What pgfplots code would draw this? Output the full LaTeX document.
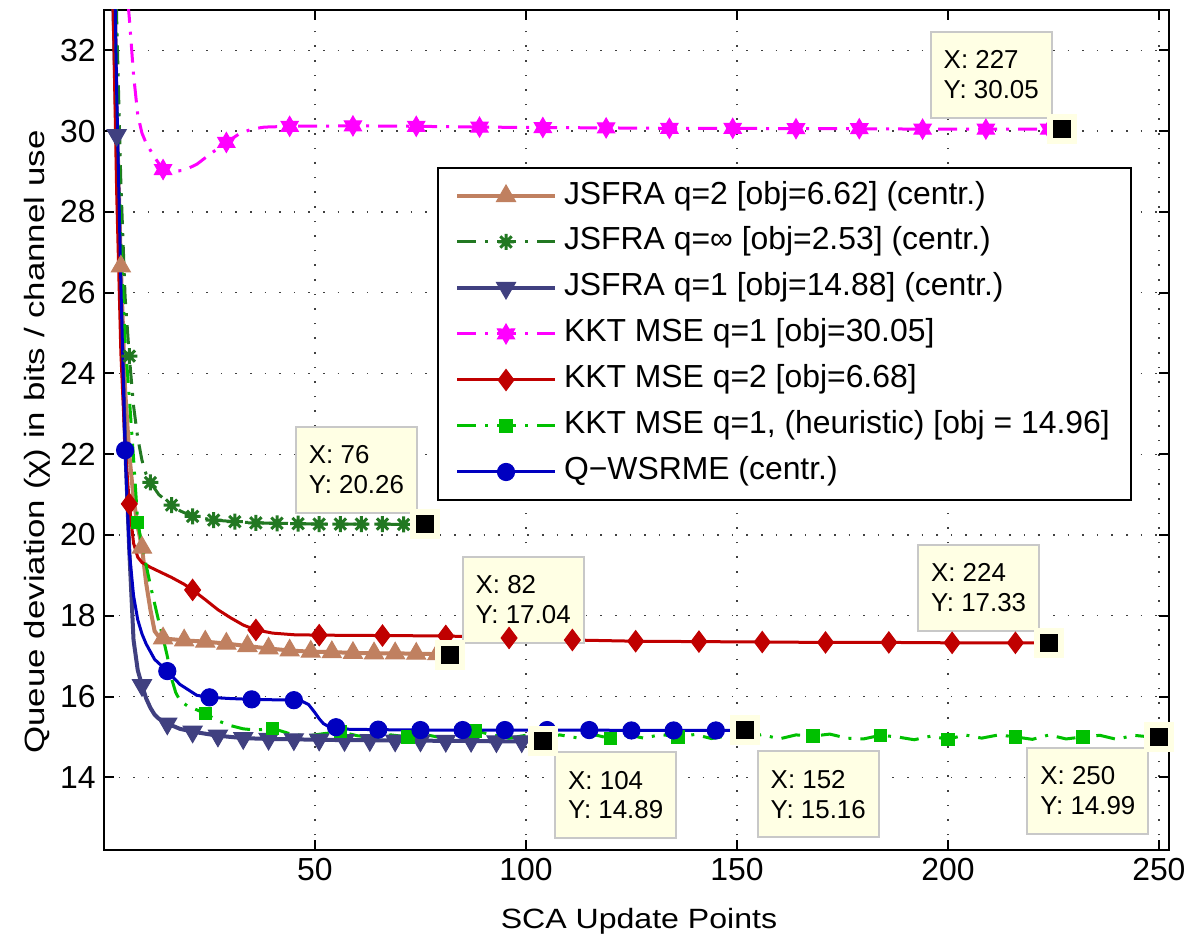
\documentclass[border=0pt]{standalone}
\usepackage{fontspec}
\setmainfont{Liberation Sans}
\usepackage{pgfplots}
\usepackage{pgfplotstable}
\pgfplotsset{compat=1.18}

\definecolor{ctan}{RGB}{192,128,96}
\definecolor{cdkgreen}{RGB}{34,120,34}
\definecolor{cnavy}{RGB}{64,64,128}
\definecolor{cmag}{RGB}{255,0,255}
\definecolor{cred}{RGB}{192,0,0}
\definecolor{cgreen}{RGB}{0,192,0}
\definecolor{cblue}{RGB}{0,0,192}
\definecolor{tipfill}{RGB}{255,255,228}
\definecolor{tipedge}{RGB}{200,200,200}

% six pointed star (matlab 'h'-like)
\pgfdeclareplotmark{hexagram}{%
  \pgfpathmoveto{\pgfpointpolar{90}{\pgfplotmarksize}}%
  \pgfpathlineto{\pgfpointpolar{120}{0.577\pgfplotmarksize}}%
  \pgfpathlineto{\pgfpointpolar{150}{\pgfplotmarksize}}%
  \pgfpathlineto{\pgfpointpolar{180}{0.577\pgfplotmarksize}}%
  \pgfpathlineto{\pgfpointpolar{210}{\pgfplotmarksize}}%
  \pgfpathlineto{\pgfpointpolar{240}{0.577\pgfplotmarksize}}%
  \pgfpathlineto{\pgfpointpolar{270}{\pgfplotmarksize}}%
  \pgfpathlineto{\pgfpointpolar{300}{0.577\pgfplotmarksize}}%
  \pgfpathlineto{\pgfpointpolar{330}{\pgfplotmarksize}}%
  \pgfpathlineto{\pgfpointpolar{0}{0.577\pgfplotmarksize}}%
  \pgfpathlineto{\pgfpointpolar{30}{\pgfplotmarksize}}%
  \pgfpathlineto{\pgfpointpolar{60}{0.577\pgfplotmarksize}}%
  \pgfpathclose
  \pgfusepathqfillstroke
}
% matlab '*' drawn thick
\pgfdeclareplotmark{ast8}{%
  \pgfpathmoveto{\pgfqpoint{-\pgfplotmarksize}{0pt}}\pgfpathlineto{\pgfqpoint{\pgfplotmarksize}{0pt}}%
  \pgfpathmoveto{\pgfqpoint{0pt}{-\pgfplotmarksize}}\pgfpathlineto{\pgfqpoint{0pt}{\pgfplotmarksize}}%
  \pgfpathmoveto{\pgfqpoint{-0.707\pgfplotmarksize}{-0.707\pgfplotmarksize}}\pgfpathlineto{\pgfqpoint{0.707\pgfplotmarksize}{0.707\pgfplotmarksize}}%
  \pgfpathmoveto{\pgfqpoint{-0.707\pgfplotmarksize}{0.707\pgfplotmarksize}}\pgfpathlineto{\pgfqpoint{0.707\pgfplotmarksize}{-0.707\pgfplotmarksize}}%
  \pgfusepathqstroke
  \pgfpathcircle{\pgfpointorigin}{0.55\pgfplotmarksize}\pgfusepathqfill
}

\tikzset{
  tipbox/.style={draw=tipedge, fill=tipfill, line width=1bp, anchor=north west,
    font=\fontsize{13}{15}\selectfont, align=left, inner xsep=0bp, inner ysep=0bp,
    minimum width=60.5bp, minimum height=43bp},
}

\pgfplotsset{
  dashdot/.style={dash pattern=on 9.5bp off 4.5bp on 1.5bp off 4.5bp},
  sTan/.style={color=ctan, line width=2bp, solid},
  mTan/.style={mark=triangle*, mark size=5.5bp, mark options={solid, line width=0.5bp, fill=ctan, draw=ctan}},
  sDkg/.style={color=cdkgreen, line width=1.5bp, dashdot},
  mDkg/.style={mark=ast8, mark size=4bp, mark options={solid, line width=1.5bp, fill=cdkgreen, draw=cdkgreen}},
  sNavy/.style={color=cnavy, line width=2bp, solid},
  mNavy/.style={mark=triangle*, mark size=5.5bp, mark options={solid, rotate=180, line width=0.5bp, fill=cnavy, draw=cnavy}},
  sMag/.style={color=cmag, line width=1.5bp, dashdot},
  mMag/.style={mark=hexagram, mark size=5bp, mark options={solid, line width=0.5bp, fill=cmag, draw=cmag}},
  sRed/.style={color=cred, line width=1.5bp, solid},
  mRed/.style={mark=diamond*, mark size=5.3bp, mark options={solid, line width=0.5bp, fill=cred, draw=cred}},
  sGrn/.style={color=cgreen, line width=1.5bp, dashdot},
  mGrn/.style={mark=square*, mark size=3.1bp, mark options={solid, line width=0.5bp, fill=cgreen, draw=cgreen}},
  sBlue/.style={color=cblue, line width=1.5bp, solid},
  mBlue/.style={mark=*, mark size=4.3bp, mark options={solid, line width=0.5bp, fill=cblue, draw=cblue}},
  onlym/.style={only marks, forget plot, restrict expr to domain={\thisrow{m}}{1:1}},
}

% m = 1 where a marker sits
\pgfplotstableread{
x y m
1 50 0
2 37 0
3 30.5 0
4 26.65 1
5 23.6 0
6 22.0 0
7 20.9 0
8 20.2 0
9 19.69 1
10 18.8 0
11 18.15 0
12 17.62 0
13 17.48 0
14 17.44 1
19 17.39 1
24 17.36 1
29 17.31 1
34 17.25 1
39 17.19 1
44 17.14 1
49 17.11 1
54 17.10 1
59 17.08 1
64 17.07 1
69 17.07 1
74 17.06 1
79 17.05 1
82 17.04 0
}\tanT

\pgfplotstableread{
x y m
1 45 0
2 38 0
3 32.8 0
4 28.7 0
5 25.9 0
6 24.43 1
7 23.2 0
8 22.4 0
9 21.85 0
10 21.5 0
11 21.3 1
13 21.0 0
16 20.74 1
18 20.6 0
21 20.46 1
26 20.37 1
31 20.33 1
36 20.30 1
41 20.29 1
46 20.28 1
51 20.27 1
56 20.27 1
61 20.27 1
66 20.27 1
71 20.26 1
76 20.26 1
}\dkgT

\pgfplotstableread{
x y m
1 45 0
2 34 0
3 29.9 1
4 25.8 0
5 22.3 0
6 19.6 0
7 17.4 0
8 16.65 0
9 16.28 1
10 15.95 0
11 15.72 0
12 15.55 0
13 15.45 0
15 15.33 1
18 15.20 0
21 15.13 1
27 15.03 1
33 14.97 1
39 14.95 1
45 14.94 1
51 14.93 1
57 14.92 1
63 14.92 1
69 14.91 1
75 14.91 1
81 14.90 1
87 14.90 1
93 14.89 1
99 14.89 1
104 14.89 0
}\navyT

\pgfplotstableread{
x y m
1 48 0
2 43 0
3 39 0
4 36 0
5 34 0
6 32.8 0
7 31.4 0
8 30.4 0
9 29.95 0
10 29.7 0
12 29.35 0
14 29.05 1
16 29.0 0
19 29.03 0
22 29.18 0
25 29.42 0
29 29.72 1
32 29.93 0
35 30.05 0
38 30.10 0
44 30.12 1
59 30.13 1
74 30.12 1
89 30.10 1
104 30.09 1
119 30.08 1
134 30.07 1
149 30.07 1
164 30.06 1
179 30.06 1
194 30.05 1
209 30.05 1
224 30.05 1
227 30.05 0
}\magT

\pgfplotstableread{
x y m
1 50 0
2 34 0
3 28.5 0
4 24.5 0
5 22.2 0
6 20.77 1
7 19.8 0
8 19.45 0
9 19.32 0
11 19.2 0
13 19.1 0
16 18.95 0
19 18.78 0
21 18.64 1
24 18.4 0
27 18.15 0
30 17.95 0
33 17.77 0
36 17.65 1
40 17.57 0
45 17.53 0
51 17.52 1
66 17.51 1
81 17.50 1
96 17.45 1
111 17.40 1
126 17.37 1
141 17.36 1
156 17.35 1
171 17.34 1
186 17.34 1
201 17.33 1
216 17.33 1
224 17.33 0
}\redT

\pgfplotstableread{
x y m
1 48 0
2 38 0
3 31 0
4 27.2 0
5 24.8 0
6 23.4 0
7 21.9 0
8 20.31 1
9 19.75 0
10 19.25 0
11 18.75 0
12 18.3 0
13 17.85 0
14 17.45 0
15 17.0 0
16 16.45 0
17 16.1 0
18 15.9 0
20 15.75 0
22 15.67 0
24 15.58 1
27 15.4 0
30 15.28 0
33 15.2 0
36 15.17 0
40 15.21 1
44 15.08 0
48 15.02 0
52 15.08 0
56 15.13 1
60 15.03 0
64 14.98 0
68 15.05 0
72 15.00 1
76 15.06 0
80 14.98 0
84 15.07 0
88 15.15 1
92 15.05 0
96 14.97 0
100 15.04 0
104 14.95 1
108 15.05 0
112 14.98 0
116 15.06 0
120 14.96 1
124 15.05 0
128 14.97 0
132 15.06 0
136 15.00 1
140 15.06 0
144 14.96 0
148 15.03 0
152 14.98 1
156 15.06 0
160 14.95 0
164 15.05 0
168 15.02 1
172 15.07 0
176 14.97 0
180 14.95 0
184 15.04 1
188 15.00 0
192 14.93 0
196 15.02 0
200 14.94 1
204 15.05 0
208 14.97 0
212 15.05 0
216 15.00 1
220 14.94 0
224 15.05 0
228 14.95 0
232 15.00 1
236 15.04 0
240 14.94 0
244 15.04 0
248 15.00 1
250 14.99 0
}\grnT

\pgfplotstableread{
x y m
1 45 0
2 37 0
3 31 0
4 26.2 0
5 22.1 1
6 19.6 0
7 18.5 0
8 17.9 0
9 17.55 0
10 17.3 0
12 16.92 0
15 16.63 1
18 16.3 0
22 16.03 0
25 15.98 1
30 15.95 0
35 15.93 1
40 15.92 0
45 15.91 1
47 15.88 0
48.5 15.8 0
50 15.6 0
51 15.45 0
52 15.33 0
53 15.27 0
55 15.24 1
58 15.19 0
65 15.18 1
75 15.17 1
85 15.17 1
95 15.17 1
105 15.17 1
115 15.17 1
125 15.16 1
135 15.16 1
145 15.16 1
152 15.16 0
}\blueT

\begin{document}
\begin{tikzpicture}
\begin{axis}[
  width=532.5bp, height=420bp, scale only axis,
  xmin=0, xmax=252.4, ymin=12.2, ymax=33,
  xtick={50,100,...,250}, ytick={14,16,...,32},
  grid=major,
  major grid style={black!75, line width=0.7bp, dash pattern=on 0.8bp off 6.5bp},
  tick align=inside, major tick length=5bp,
  axis line style={line width=1bp},
  every tick/.style={black, line width=1bp},
  /pgf/number format/assume math mode=true,
  every tick label/.append style={font=\fontsize{16}{19}\selectfont},
  xticklabel style={anchor=base, yshift=-15bp},
  yticklabel style={anchor=east, inner xsep=0pt, xshift=-4bp},
  xlabel={SCA Update Points},
  ylabel={Queue deviation (χ) in bits / channel use},
  xlabel style={font=\fontsize{14}{16}\selectfont, at={(axis description cs:0.5023,-0.0929)}, anchor=base, xscale=1.15},
  ylabel style={font=\fontsize{14}{16}\selectfont, at={(axis description cs:-0.0563,0.4857)}, anchor=base, xscale=1.25},
  legend image code/.code={%
    \draw[mark repeat=2, mark phase=2, #1] plot coordinates {(0bp,0bp) (24.5bp,0bp) (49bp,0bp)};},
  legend cell align=left,
  legend style={at={(0.3127,0.8131)}, anchor=north west,
    draw=black, line width=1bp, fill=white,
    font=\fontsize{16}{19}\selectfont,
    inner xsep=8.5bp, inner ysep=4bp, row sep=3bp, column sep=1.5bp,
    nodes={inner sep=2bp, text height=12bp, text depth=4bp}},
]
\addplot[sTan, forget plot] table[x=x, y=y] {\tanT};
\addplot[sTan, mTan, onlym] table[x=x, y=y] {\tanT};
\addplot[sDkg, forget plot] table[x=x, y=y] {\dkgT};
\addplot[sDkg, mDkg, onlym] table[x=x, y=y] {\dkgT};
\addplot[sNavy, forget plot] table[x=x, y=y] {\navyT};
\addplot[sNavy, mNavy, onlym] table[x=x, y=y] {\navyT};
\addplot[sMag, forget plot] table[x=x, y=y] {\magT};
\addplot[sMag, mMag, onlym] table[x=x, y=y] {\magT};
\addplot[sRed, forget plot] table[x=x, y=y] {\redT};
\addplot[sRed, mRed, onlym] table[x=x, y=y] {\redT};
\addplot[sGrn, forget plot] table[x=x, y=y] {\grnT};
\addplot[sGrn, mGrn, onlym] table[x=x, y=y] {\grnT};
\addplot[sBlue, forget plot] table[x=x, y=y] {\blueT};
\addplot[sBlue, mBlue, onlym] table[x=x, y=y] {\blueT};

% data tips
\addplot[only marks, forget plot, mark=square*, mark size=6bp,
  mark options={fill=black, draw=tipfill, line width=3bp}]
  coordinates {(76,20.26) (82,17.04) (104,14.89) (152,15.16) (224,17.33) (227,30.05) (250,14.99)};
\node[tipbox] at (axis cs:45.26,22.70) {X: 76\\Y: 20.26};
\node[tipbox] at (axis cs:84.76,19.49) {X: 82\\Y: 17.04};
\node[tipbox] at (axis cs:106.7,14.65) {X: 104\\Y: 14.89};
\node[tipbox] at (axis cs:154.7,14.67) {X: 152\\Y: 15.16};
\node[tipbox] at (axis cs:192.7,19.78) {X: 224\\Y: 17.33};
\node[tipbox] at (axis cs:195.7,32.49) {X: 227\\Y: 30.05};
\node[tipbox] at (axis cs:218.6,14.76) {X: 250\\Y: 14.99};

\addlegendimage{sTan, mTan}
\addlegendentry{JSFRA q=2 [obj=6.62] (centr.)}
\addlegendimage{sDkg, mDkg}
\addlegendentry{JSFRA q=∞ [obj=2.53] (centr.)}
\addlegendimage{sNavy, mNavy}
\addlegendentry{JSFRA q=1 [obj=14.88] (centr.)}
\addlegendimage{sMag, mMag}
\addlegendentry{KKT MSE q=1 [obj=30.05]}
\addlegendimage{sRed, mRed}
\addlegendentry{KKT MSE q=2 [obj=6.68]}
\addlegendimage{sGrn, mGrn}
\addlegendentry{KKT MSE q=1, (heuristic) [obj = 14.96]}
\addlegendimage{sBlue, mBlue}
\addlegendentry{Q−WSRME (centr.)}
\end{axis}
\pgfresetboundingbox
\path[use as bounding box] ([shift={(-52bp,-42bp)}]current axis.south west) rectangle ([shift={(9.5bp,5bp)}]current axis.north east);
\end{tikzpicture}
\end{document}
